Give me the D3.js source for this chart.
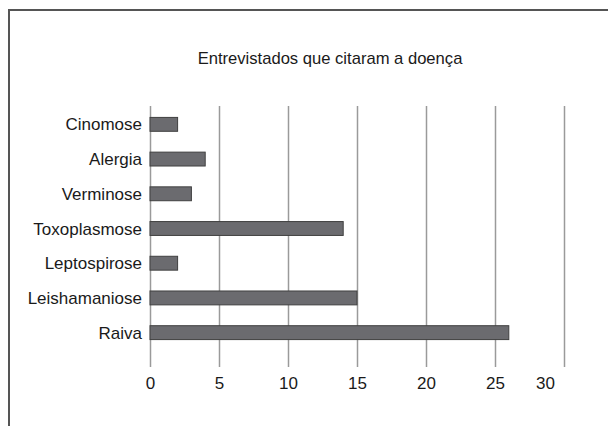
<!DOCTYPE html>
<html>
<head>
<meta charset="utf-8">
<script src="https://cdn.jsdelivr.net/npm/d3@7"></script>
<style>
body { margin: 0; background: #fff; }
svg { display: block; font-family: "Liberation Sans", Arial, sans-serif; }
</style>
</head>
<body>
<div id="main-chart"></div>
<script>
var w = 608;
var h = 426;

var chart_title = "Entrevistados que citaram a doença";
var diseases = ["Cinomose", "Alergia", "Verminose", "Toxoplasmose", "Leptospirose", "Leishamaniose", "Raiva"];
var counts = [2, 4, 3, 14, 2, 15, 26];
var tick_values = [0, 5, 10, 15, 20, 25, 30];

var data = diseases.map(function(d, i) { return { name: d, val: counts[i] }; });

var svg = d3.select("#main-chart")
    .append("svg")
    .attr("width", w)
    .attr("height", h);

// frame (only top and left edges show in the picture)
svg.append("path")
    .attr("d", "M9,426V10H608")
    .attr("fill", "none")
    .attr("stroke", "#555")
    .attr("stroke-width", 2);

svg.append("text")
    .attr("x", 330)
    .attr("y", 64)
    .attr("text-anchor", "middle")
    .style("font-size", "16.6px")
    .style("fill", "#1a1a1a")
    .text(chart_title);

var x = d3.scaleLinear()
    .domain([0, 30])
    .range([150, 564]);

var y = d3.scaleBand()
    .domain(diseases)
    .range([107, 350])
    .paddingInner(0.6)
    .paddingOuter(0.3);

var grid_top = 106, grid_bottom = 367;

var xAxis = d3.axisBottom(x)
    .tickValues(tick_values)
    .tickSize(-(grid_bottom - grid_top))
    .tickPadding(10)
    .tickFormat(d3.format("d"));

var gx = svg.append("g")
    .attr("transform", "translate(0," + grid_bottom + ")")
    .call(xAxis);
gx.select(".domain").remove();
gx.selectAll(".tick line")
    .attr("stroke", "#9a9a9a")
    .attr("stroke-width", 1.5);
gx.selectAll(".tick text")
    .style("font-size", "17px")
    .attr("fill", "#1a1a1a")
    .attr("font-family", null);
// last label sits left of its gridline in the original
gx.selectAll(".tick text")
    .filter(function(d) { return d == 30; })
    .attr("dx", -19);

svg.selectAll(".bar")
    .data(data)
    .enter()
    .append("rect")
    .attr("class", "bar")
    .attr("x", x(0))
    .attr("y", function(d) { return y(d.name); })
    .attr("width", function(d) { return x(d.val) - x(0); })
    .attr("height", y.bandwidth())
    .attr("fill", "#6b6b6f")
    .attr("stroke", "#404040")
    .attr("stroke-width", 1);

svg.selectAll(".label")
    .data(data)
    .enter()
    .append("text")
    .attr("class", "label")
    .attr("x", 142)
    .attr("y", function(d) { return y(d.name) + y.bandwidth() / 2; })
    .attr("dy", "0.36em")
    .attr("text-anchor", "end")
    .style("font-size", "17px")
    .style("fill", "#1a1a1a")
    .text(function(d) { return d.name; });
</script>
</body>
</html>
